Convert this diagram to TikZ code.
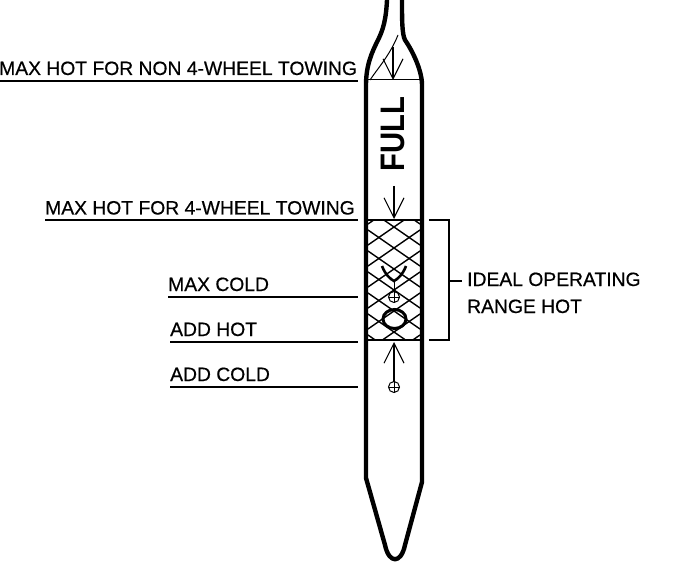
\documentclass[tikz,border=0pt]{standalone}
\usepackage{fontspec}
\setmainfont{Liberation Sans}
\newfontfamily\lblfont[FakeBold=0.5]{Liberation Sans}
\usetikzlibrary{arrows.meta}

\tikzset{
  wall/.style={line width=4.4pt, line join=round},
  thin line/.style={line width=1pt},
  hatch line/.style={line width=1.4pt},
  leader/.style={line width=1.3pt},
  label text/.style={font=\lblfont\fontsize{19.3}{21}\selectfont, inner sep=0pt, anchor=base west},
  open arrow/.style={line width=1.1pt, -{Straight Barb[length=20pt,width=20pt,line width=1.1pt]}},
}

\begin{document}
\begin{tikzpicture}[x=1pt, y=-1pt]
    \useasboundingbox (0,0) rectangle (688,564);

    % parameters
    \def\Lwall{366}
    \def\Rwall{422}
    \def\Hatchtop{220}
    \def\Hatchbot{340}

    % glass tube
    \draw[wall] (387,0) .. controls (386,20) and (383,30) .. (378,40)
        .. controls (372,52) and (\Lwall,65) .. (\Lwall,85)
        -- (\Lwall,478) -- (385,545)
        .. controls (389,564) and (401,564) .. (405,545)
        -- (\Rwall,482) -- (\Rwall,85)
        .. controls (\Rwall,70) and (412,50) .. (405,40)
        .. controls (402,34) and (402,20) .. (402,0);

    % top fill level
    \draw[thin line] (368,80) -- (420,80);
    \draw[thin line] (370,80) .. controls (378,68) and (390,55) .. (398,35);

    % hatched band
    \begin{scope}
        \clip (368,\Hatchtop) rectangle (420,\Hatchbot);
        \foreach \i in {-2,...,7}{
            \draw[hatch line] (368,227+\i*21-18) -- (420,227+\i*21+18);
            \draw[hatch line] (420,227+\i*21-18) -- (368,227+\i*21+18);
        }
    \end{scope}
    \draw[line width=1.6pt] (368,\Hatchtop) -- (420,\Hatchtop);
    \draw[line width=1.6pt] (368,\Hatchbot) -- (420,\Hatchbot);

    % arrows and level marks
    \coordinate (topstem) at (393,47);
    \coordinate (toptip) at (393,80);
    \coordinate (midstem) at (394,186);
    \coordinate (midtip) at (394,219);
    \coordinate (lowstem) at (394,382);
    \coordinate (lowtip) at (394,342);
    \coordinate (coldstem) at (394,292);
    \coordinate (coldtip) at (394,281);
    \draw[open arrow] (topstem) -- (toptip);
    \draw[open arrow] (midstem) -- (midtip);
    \draw[open arrow] (lowstem) -- (lowtip);
    \draw[line width=2.6pt] (382,266) .. controls (385,274) and (390,279) .. (coldtip)
        .. controls (398,279) and (403,274) .. (406,266);
    \draw[thin line] (coldstem) -- (coldtip);

    \foreach \y in {297,387}{
        \draw[thin line] (394,\y) circle (5.5pt);
        \draw[thin line] (388.5,\y) -- (399.5,\y);
        \draw[thin line] (394,\y-5.5) -- (394,\y+5.5);
    }
    \draw[line width=3pt] (394.5,319) ellipse (11.5pt and 9.5pt);

    % rotated word
    \node[font=\bfseries\fontsize{34}{36}\selectfont, rotate=90, xscale=.86, inner sep=0pt] (full) at (393,134) {FULL};

    % labels with leaders
    \node[label text] (nonfour) at (-1,75) {MAX HOT FOR NON 4-WHEEL TOWING};
    \node[label text] (four) at (45,214.5) {MAX HOT FOR 4-WHEEL TOWING};
    \node[label text] (maxcold) at (168,291) {MAX COLD};
    \node[label text] (addhot) at (170,336) {ADD HOT};
    \node[label text] (addcold) at (170,381) {ADD COLD};
    \draw[leader] (0,81) -- (358,81);
    \draw[leader] (45,220) -- (358,220);
    \draw[leader] (168,297) -- (358,297);
    \draw[leader] (170,342) -- (358,342);
    \draw[leader] (170,387) -- (358,387);

    % bracket for the range
    \coordinate (brtop) at (429,220);
    \coordinate (brbot) at (429,340);
    \coordinate (brmid) at (449,281);
    \node[label text] (idealtext) at (467,286) {IDEAL OPERATING};
    \node[label text] (rangetext) at (467,313) {RANGE HOT};
    \draw[leader] (brtop) -| (brmid) |- (brbot);
    \draw[leader] (brmid) -- (462,281);
\end{tikzpicture}
\end{document}
